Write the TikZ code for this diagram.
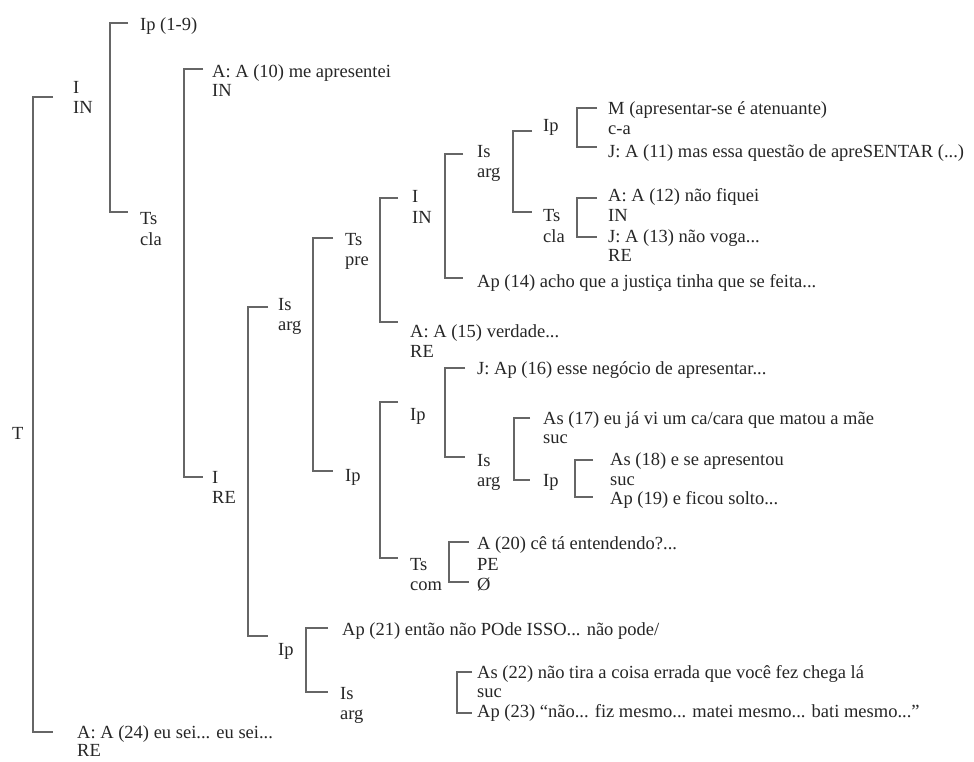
\documentclass[tikz,border=0pt]{standalone}
\usepackage{fontspec}
\setmainfont{Liberation Serif}
\begin{document}
\begin{tikzpicture}[x=1pt,y=-1pt,
  lbl/.style={anchor=base west, inner sep=0pt, font=\fontsize{18.5}{20}\selectfont, text=black!85},
  brk/.style={draw=black!60, line width=1.3pt}]
\useasboundingbox[fill=white] (0,0) rectangle (974,762);

% ---------- labels ----------
\node[lbl] (T) at (12,439) {T};
\node[lbl] (i1a) at (73,94) {I};
\node[lbl] (i1b) at (73,114) {IN};
\node[lbl] (ip19) at (140,31) {Ip (1-9)};
\node[lbl] (ts1a) at (140,225) {Ts};
\node[lbl] (ts1b) at (140,245) {cla};
\node[lbl] (a10a) at (212,78) {A: A (10) me apresentei};
\node[lbl] (a10b) at (212,97) {IN};
\node[lbl] (ire1) at (212,483) {I};
\node[lbl] (ire2) at (212,503) {RE};
\node[lbl] (is1a) at (278,310) {Is};
\node[lbl] (is1b) at (278,330) {arg};
\node[lbl] (ip2) at (278,655) {Ip};
\node[lbl] (ts2a) at (345,245) {Ts};
\node[lbl] (ts2b) at (345,265) {pre};
\node[lbl] (ip3) at (345,481) {Ip};
\node[lbl] (i3a) at (412,203) {I};
\node[lbl] (i3b) at (412,223) {IN};
\node[lbl] (a15a) at (410,337) {A: A (15) verdade...};
\node[lbl] (a15b) at (410,357) {RE};
\node[lbl] (is4a) at (477,158) {Is};
\node[lbl] (is4b) at (477,178) {arg};
\node[lbl] (ap14) at (477,287) {Ap (14) acho que a justiça tinha que se feita...};
\node[lbl] (ip5) at (543,132) {Ip};
\node[lbl] (ts5a) at (543,222) {Ts};
\node[lbl] (ts5b) at (543,242) {cla};
\node[lbl] (m1) at (608,115) {M (apresentar-se é atenuante)};
\node[lbl] (m2) at (608,135) {c-a};
\node[lbl] (m3) at (608,158) {J: A (11) mas essa questão de apreSENTAR (...)};
\node[lbl] (a12a) at (608,202) {A: A (12) não fiquei};
\node[lbl] (a12b) at (608,222) {IN};
\node[lbl] (a12c) at (608,242) {J: A (13) não voga...};
\node[lbl] (a12d) at (608,261) {RE};
\node[lbl] (ip6) at (410,420) {Ip};
\node[lbl] (j16) at (477,374) {J: Ap (16) esse negócio de apresentar...};
\node[lbl] (is7a) at (477,466) {Is};
\node[lbl] (is7b) at (477,486) {arg};
\node[lbl] (as17a) at (543,424) {As (17) eu já vi um ca/cara que matou a mãe};
\node[lbl] (as17b) at (543,443) {suc};
\node[lbl] (ip8) at (543,486) {Ip};
\node[lbl] (as18a) at (610,465) {As (18) e se apresentou};
\node[lbl] (as18b) at (610,485) {suc};
\node[lbl] (as18c) at (610,504) {Ap (19) e ficou solto...};
\node[lbl] (ts9a) at (410,570) {Ts};
\node[lbl] (ts9b) at (410,590) {com};
\node[lbl] (a20a) at (477,549) {A (20) cê tá entendendo?...};
\node[lbl] (a20b) at (477,570) {PE};
\node[lbl] (a20c) at (477,590) {Ø};
\node[lbl] (ap21) at (342,635) {Ap (21) então não POde ISSO... não pode/};
\node[lbl] (is10a) at (340,699) {Is};
\node[lbl] (is10b) at (340,719) {arg};
\node[lbl] (as22a) at (477,678) {As (22) não tira a coisa errada que você fez chega lá};
\node[lbl] (as22b) at (477,697) {suc};
\node[lbl] (as22c) at (477,717) {Ap (23) “não... fiz mesmo... matei mesmo... bati mesmo...”};
\node[lbl] (a24a) at (77,738) {A: A (24) eu sei... eu sei...};
\node[lbl] (a24b) at (77,756) {RE};

% ---------- bracket ends ----------
\coordinate (b1t) at (53,97);   \coordinate (b1b) at (53,732);
\coordinate (b2t) at (128,23);  \coordinate (b2b) at (128,212);
\coordinate (b3t) at (203,69);  \coordinate (b3b) at (203,477);
\coordinate (b4t) at (268,307); \coordinate (b4b) at (268,636);
\coordinate (b5t) at (333,238); \coordinate (b5b) at (333,471);
\coordinate (b6t) at (398,198); \coordinate (b6b) at (398,322);
\coordinate (b7t) at (463,154); \coordinate (b7b) at (463,278);
\coordinate (b8t) at (532,131); \coordinate (b8b) at (532,212);
\coordinate (b9t) at (597,108); \coordinate (b9b) at (597,147);
\coordinate (b10t) at (597,198); \coordinate (b10b) at (597,237);
\coordinate (b11t) at (398,402); \coordinate (b11b) at (398,558);
\coordinate (b12t) at (465,368); \coordinate (b12b) at (465,457);
\coordinate (b13t) at (530,418); \coordinate (b13b) at (530,480);
\coordinate (b14t) at (593,460); \coordinate (b14b) at (593,497);
\coordinate (b15t) at (469,542); \coordinate (b15b) at (469,582);
\coordinate (b16t) at (328,628); \coordinate (b16b) at (328,692);
\coordinate (b17t) at (472,672); \coordinate (b17b) at (472,713);

% ---------- brackets ----------
\draw[brk] (b1t) -- ++(-20,0) |- (b1b);
\draw[brk] (b2t) -- ++(-18,0) |- (b2b);
\draw[brk] (b3t) -- ++(-19,0) |- (b3b);
\draw[brk] (b4t) -- ++(-20,0) |- (b4b);
\draw[brk] (b5t) -- ++(-20,0) |- (b5b);
\draw[brk] (b6t) -- ++(-18,0) |- (b6b);
\draw[brk] (b7t) -- ++(-18,0) |- (b7b);
\draw[brk] (b8t) -- ++(-19,0) |- (b8b);
\draw[brk] (b9t) -- ++(-20,0) |- (b9b);
\draw[brk] (b10t) -- ++(-20,0) |- (b10b);
\draw[brk] (b11t) -- ++(-18,0) |- (b11b);
\draw[brk] (b12t) -- ++(-20,0) |- (b12b);
\draw[brk] (b13t) -- ++(-16,0) |- (b13b);
\draw[brk] (b14t) -- ++(-18,0) |- (b14b);
\draw[brk] (b15t) -- ++(-20,0) |- (b15b);
\draw[brk] (b16t) -- ++(-22,0) |- (b16b);
\draw[brk] (b17t) -- ++(-15,0) |- (b17b);
\end{tikzpicture}
\end{document}
